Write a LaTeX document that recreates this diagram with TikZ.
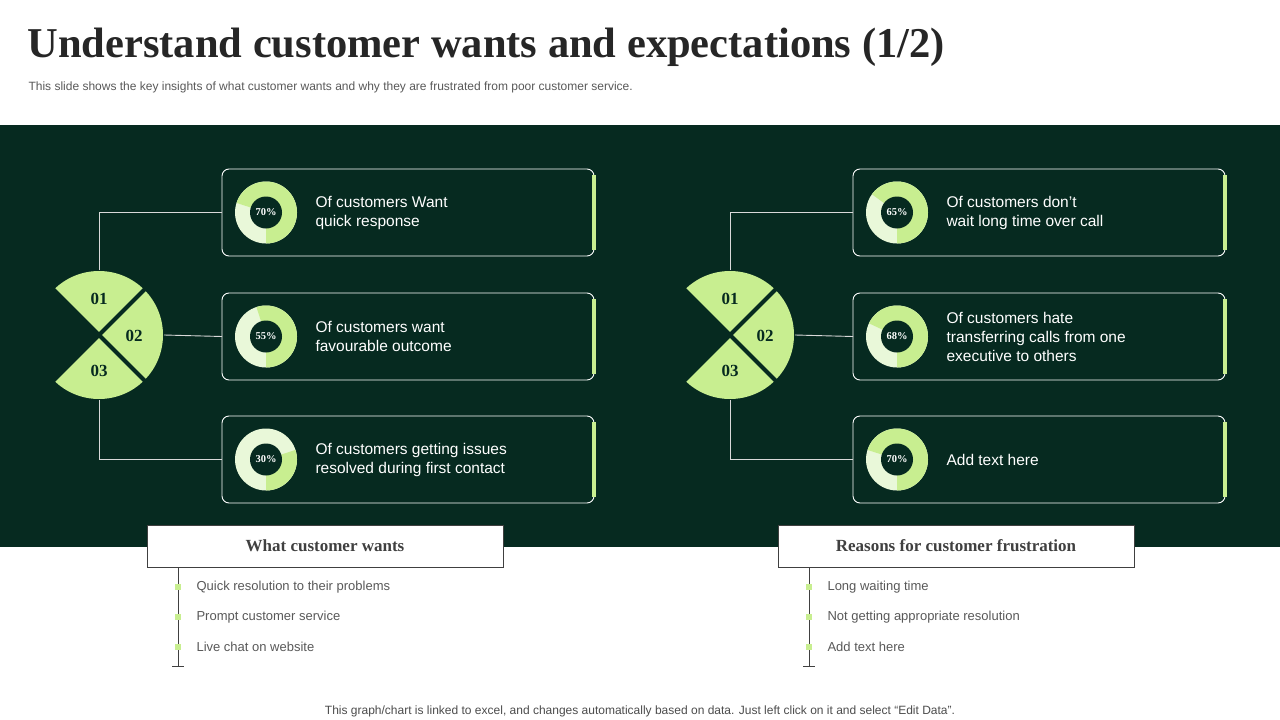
\documentclass[tikz,border=0pt]{standalone}
\usepackage{fontspec}
\setmainfont{Liberation Serif}
\setsansfont{Liberation Sans}
\begin{document}
\begin{tikzpicture}[x=1pt,y=-1pt,
  txt/.style={font=\sffamily\fontsize{15.5}{19}\selectfont,color=white,align=left,anchor=west},
  ibox/.style={draw=white,line width=0.9pt,rounded corners=7pt},
  conn/.style={draw=white!85!black,line width=0.9pt},
  lab/.style={draw=black!75,line width=0.9pt,fill=white,minimum width=356pt,minimum height=42pt,font=\bfseries\fontsize{17}{20}\selectfont,text=black!75},
  bul/.style={font=\sffamily\fontsize{13}{15}\selectfont,text=black!65,anchor=west}]
\definecolor{dk}{HTML}{062A20}
\definecolor{lg}{HTML}{C8EE90}
\definecolor{pl}{HTML}{E9F8D9}
\useasboundingbox (0,0) rectangle (1280,720);
\fill[white] (0,0) rectangle (1280,720);
\node[anchor=west,font=\bfseries\fontsize{42.5}{46}\selectfont,text=black!85] (title) at (24,47) {Understand customer wants and expectations (1/2)};
\node[anchor=west,font=\sffamily\fontsize{12}{14}\selectfont,text=black!65] (sub) at (25,87) {This slide shows the key insights of what customer wants and why they are frustrated from poor customer service.};
\fill[dk] (0,125) rectangle (1280,547);
\node[font=\sffamily\fontsize{12}{14}\selectfont,text=black!70] (foot) at (640,711) {This graph/chart is linked to excel, and changes automatically based on data. Just left click on it and select “Edit Data”.};
\foreach \dx/\side/\lt/\pa/\pb/\pc/\ta/\tb/\tc/\bt/\ba/\bb/\bc in {
 0/L/What customer wants/70/55/30/{Of customers Want\\quick response}/{Of customers want\\favourable outcome}/{Of customers getting issues\\resolved during first contact}/x/{Quick resolution to their problems}/{Prompt customer service}/{Live  chat on website},
 631/R/Reasons for customer frustration/65/68/70/{Of customers don’t\\wait long time over call}/{Of customers hate\\transferring calls from one\\executive to others}/{Add text here}/x/{Long waiting time}/{Not getting appropriate resolution}/{Add text here}}{
\begin{scope}[xshift=\dx]
 \fill[lg] (99,335) -- ++(45:64) arc[start angle=45,end angle=135,radius=64] -- cycle;
 \fill[lg] (99,335) -- ++(-45:64) arc[start angle=-45,end angle=45,radius=64] -- cycle;
 \fill[lg] (99,335) -- ++(-135:64) arc[start angle=-135,end angle=-45,radius=64] -- cycle;
 \draw[dk,line width=4pt] (99,335) -- ++(45:70) (99,335) -- ++(-45:70) (99,335) -- ++(135:70) (99,335) -- ++(-135:70);
 \node[font=\bfseries\fontsize{17}{20}\selectfont,text=dk] (n1\side) at (99,299) {01};
 \node[font=\bfseries\fontsize{17}{20}\selectfont,text=dk] (n2\side) at (134,336) {02};
 \node[font=\bfseries\fontsize{17}{20}\selectfont,text=dk] (n3\side) at (99,371) {03};
 \coordinate (pt\side) at (99,270);
 \coordinate (pm\side) at (164,335);
 \coordinate (pb\side) at (99,400);
 \foreach \y/\p/\t/\k in {169/\pa/\ta/1,293/\pb/\tb/2,416/\pc/\tc/3}{
   \draw[ibox] (222,\y) rectangle (594,\y+87);
   \coordinate (b\k\side) at (222,\y+43.5);
   \fill[lg] (592,\y+6) rectangle (596,\y+81);
   \fill[pl] (266,\y+43.5) circle (31);
   \fill[lg] (266,\y+43.5) -- ++(90:31) arc[start angle=90,delta angle=-3.6*\p,radius=31] -- cycle;
   \fill[dk] (266,\y+43.5) circle (16);
   \node[font=\bfseries\fontsize{10.5}{12}\selectfont,text=white] at (266,\y+43.5) {\p\%};
   \node[txt] at (312,\y+43.5) {\t};
 }
 \draw[conn] (pt\side) |- (b1\side);
 \draw[conn] (pm\side) -- (b2\side);
 \draw[conn] (pb\side) |- (b3\side);
 \node[lab] (lab\side) at (325,546) {\lt};
 \coordinate (le\side) at (178,666);
 \draw[black!75,line width=0.9pt] (lab\side.south -| le\side) -- (le\side);
 \draw[black!75,line width=0.9pt] (172,666) -- (184,666);
 \foreach \y/\b in {587/\ba,617/\bb,647/\bc}{
   \fill[lg] (175,\y-3) rectangle (181,\y+3);
   \node[bul] at (193,\y) {\b};
 }
\end{scope}}
\end{tikzpicture}
\end{document}
